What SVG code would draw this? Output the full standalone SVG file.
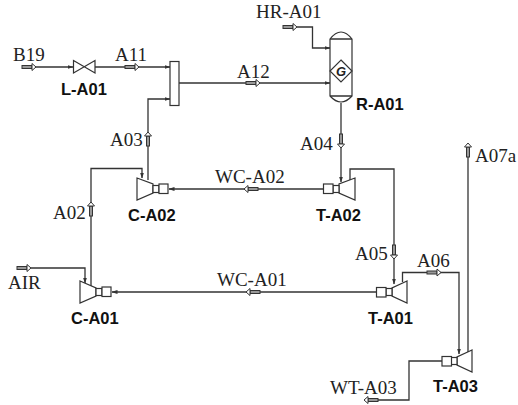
<svg xmlns="http://www.w3.org/2000/svg" width="518" height="405" viewBox="0 0 518 405">
<defs>
<marker id="ah" markerUnits="userSpaceOnUse" markerWidth="6" markerHeight="4" refX="5.5" refY="2" orient="auto"><path d="M0,0L6,2L0,4Z" fill="#333"/></marker>
<g id="st"><rect x="0" y="-1.5" width="10" height="3" fill="#999" stroke="#333" stroke-width="1"/><path d="M10,-3.5L14,0L10,3.5Z" fill="#fff" stroke="#333" stroke-width="1"/></g>
</defs>
<style>
.l{font-family:"Liberation Serif","Times New Roman",serif;font-size:19px;fill:#222}
.b{font-family:"Liberation Sans",Arial,sans-serif;font-size:16.500px;font-weight:bold;fill:#111}
.c{fill:none;stroke:#333;stroke-width:1.3}
.e{fill:#fff;stroke:#333;stroke-width:1.2}
</style>
<rect width="518" height="405" fill="#fff"/>
<g id="connectors">
<path class="c" marker-end="url(#ah)" d="M34,67H73"/>
<path class="c" marker-end="url(#ah)" d="M95,67H170"/>
<path class="c" marker-end="url(#ah)" d="M179,83H330"/>
<path class="c" marker-end="url(#ah)" d="M148,180V99H170"/>
<path class="c" marker-end="url(#ah)" d="M297,27H312.500V48H330"/>
<path class="c" marker-end="url(#ah)" d="M341,103V182"/>
<path class="c" marker-end="url(#ah)" d="M323,189H169"/>
<path class="c" marker-end="url(#ah)" d="M91,290V168.500H142V178"/>
<path class="c" marker-end="url(#ah)" d="M350,180V169H394V284"/>
<path class="c" marker-end="url(#ah)" d="M31,268H85V283"/>
<path class="c" marker-end="url(#ah)" d="M376,292H112"/>
<path class="c" marker-end="url(#ah)" d="M402.500,282V272.500H459V354"/>
<path class="c" d="M468,352V146"/>
<path class="c" d="M442,361H409V400H376"/>
<use href="#st" transform="translate(22,67)"/>
<use href="#st" transform="translate(125,67)"/>
<use href="#st" transform="translate(246,83)"/>
<use href="#st" transform="translate(283,27)"/>
<use href="#st" transform="translate(148,146) rotate(-90)"/>
<use href="#st" transform="translate(341,134) rotate(90)"/>
<use href="#st" transform="translate(258,189) rotate(180)"/>
<use href="#st" transform="translate(91,216) rotate(-90)"/>
<use href="#st" transform="translate(17,268)"/>
<use href="#st" transform="translate(260,292) rotate(180)"/>
<use href="#st" transform="translate(394,245) rotate(90)"/>
<use href="#st" transform="translate(427,272.500)"/>
<use href="#st" transform="translate(468,157) rotate(-90)"/>
<use href="#st" transform="translate(378,400) rotate(180)"/>
</g>
<g id="L-A01"><path class="e" d="M73.500,60.500L95,73V60.500L73.500,73Z"/><text class="b" x="61" y="95">L-A01</text></g>
<g id="mixer"><rect x="170" y="61.500" width="9" height="44" fill="#fff" stroke="#333" stroke-width="1.200"/></g>
<g id="R-A01"><path class="e" d="M330,39Q341,25 352,39V96Q341,108 330,96Z"/><path class="c" d="M330,39H352M330,96H352"/><path class="e" stroke-width="1.400" d="M341,60L352,71L341,82L330,71Z"/><text x="341" y="76" text-anchor="middle" font-family="Liberation Sans,Arial,sans-serif" font-size="13" font-weight="bold" font-style="italic" fill="#222">G</text><text class="b" x="356" y="110">R-A01</text></g>
<g id="C-A02"><path class="e" d="M137,178L153,184V193L137,200Z"/><rect class="e" x="153" y="185.500" width="6" height="7"/><rect class="e" x="159" y="184" width="9" height="9.500"/><text class="b" x="128" y="221">C-A02</text></g>
<g id="T-A02"><path class="e" d="M355,178L339,184V193L355,200Z"/><rect class="e" x="333" y="185.500" width="6" height="7"/><rect class="e" x="323.500" y="184" width="9.500" height="9.500"/><text class="b" x="316" y="221">T-A02</text></g>
<g id="C-A01"><path class="e" d="M80,281L96,288V296L80,303Z"/><rect class="e" x="96" y="288.500" width="6" height="7"/><rect class="e" x="102" y="287" width="9" height="9.500"/><text class="b" x="71" y="324">C-A01</text></g>
<g id="T-A01"><path class="e" d="M407,281L392,288V296L407,303Z"/><rect class="e" x="386" y="288.500" width="6" height="7"/><rect class="e" x="376.500" y="287.500" width="9.500" height="9.500"/><text class="b" x="368" y="324">T-A01</text></g>
<g id="T-A03"><path class="e" d="M472,350L457,357V365L472,372Z"/><rect class="e" x="451" y="357.500" width="6" height="7"/><rect class="e" x="442" y="356.500" width="9.500" height="9.500"/><text class="b" x="433" y="392">T-A03</text></g>
<g id="labels">
<text class="l" x="13" y="61">B19</text>
<text class="l" x="115" y="61">A11</text>
<text class="l" x="237" y="78">A12</text>
<text class="l" x="256" y="18">HR-A01</text>
<text class="l" x="110" y="146">A03</text>
<text class="l" x="300" y="150">A04</text>
<text class="l" x="475" y="162">A07a</text>
<text class="l" x="215" y="183">WC-A02</text>
<text class="l" x="53" y="219">A02</text>
<text class="l" x="355" y="260">A05</text>
<text class="l" x="417" y="267">A06</text>
<text class="l" x="8" y="289">AIR</text>
<text class="l" x="217" y="286">WC-A01</text>
<text class="l" x="330" y="394">WT-A03</text>
</g>
</svg>
